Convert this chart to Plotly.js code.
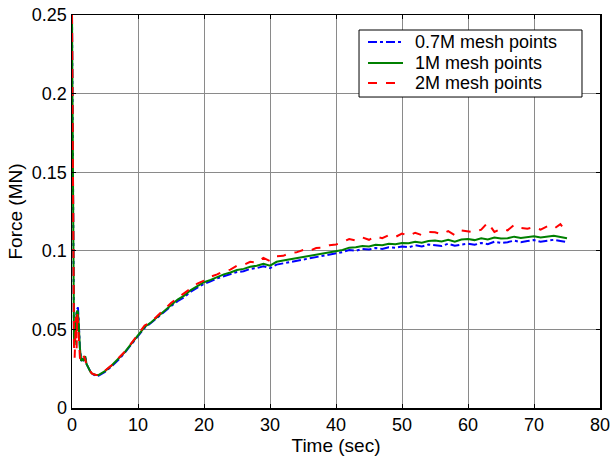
<!DOCTYPE html>
<html>
<head>
<meta charset="utf-8">
<script src="https://cdn.plot.ly/plotly-3.0.1.min.js"></script>
<style>html,body{margin:0;padding:0;background:#fff;}#chart{width:613px;height:459px;}</style>
</head>
<body>
<div id="chart"></div>
<script>
// Time axis (sec)
const timeEarly = [0, 0.05, 0.1, 0.15, 0.2, 0.3, 0.4, 0.5, 0.6, 0.7, 0.8, 0.9, 1.0, 1.1, 1.2, 1.4, 1.6, 1.8, 2.0, 2.2, 2.5, 2.8, 3.0, 3.3, 3.6];
const timeMain = [4,5,6,7,8,9,10,11,12,13,14,15,16,17,18,19,20,21,22,23,24,25,26,27,28,29,30,31,32,33,34,35,36,37,38,39,40,41,42,43,44,45,46,47,48,49,50,51,52,53,54,55,56,57,58,59,60,61,62,63,64,65,66,67,68,69,70,71,72,73,74,75];

// 0.7M mesh points (MN)
const blueEarly = [0.25, 0.205, 0.155, 0.105, 0.068, 0.046, 0.042, 0.052, 0.058, 0.061, 0.063, 0.064, 0.057, 0.046, 0.038, 0.030, 0.031, 0.030, 0.033, 0.028, 0.025, 0.023, 0.022, 0.0215, 0.0205];
const blueMain = [0.0205,0.0230,0.0265,0.0305,0.0352,0.0405,0.0460,0.0510,0.0542,0.0575,0.0612,0.0648,0.0680,0.0705,0.0740,0.0765,0.0790,0.0805,0.0825,0.0838,0.0850,0.0865,0.0870,0.0885,0.0890,0.0902,0.0890,0.0912,0.0920,0.0928,0.0938,0.0945,0.0955,0.0960,0.0968,0.0978,0.0985,0.0992,0.1005,0.1000,0.1012,0.1008,0.1018,0.1012,0.1022,0.1020,0.1028,0.1022,0.1035,0.1028,0.1040,0.1035,0.1030,0.1045,0.1032,0.1040,0.1045,0.1038,0.1050,0.1042,0.1058,0.1050,0.1055,0.1065,0.1055,0.1062,0.1068,0.1058,0.1065,0.1070,0.1062,0.1055];

// 1M mesh points (MN)
const greenEarly = [0.25, 0.21, 0.16, 0.11, 0.07, 0.045, 0.040, 0.050, 0.056, 0.060, 0.062, 0.061, 0.055, 0.045, 0.038, 0.030, 0.031, 0.030, 0.033, 0.028, 0.025, 0.023, 0.022, 0.0215, 0.021];
const greenMain = [0.0210,0.0235,0.0270,0.0310,0.0355,0.0410,0.0465,0.0515,0.0545,0.0580,0.0620,0.0655,0.0690,0.0715,0.0750,0.0775,0.0800,0.0815,0.0835,0.0850,0.0862,0.0878,0.0885,0.0898,0.0905,0.0918,0.0905,0.0930,0.0938,0.0945,0.0955,0.0962,0.0968,0.0975,0.0980,0.0990,0.0995,0.1005,0.1020,0.1022,0.1030,0.1028,0.1038,0.1035,0.1045,0.1042,0.1050,0.1048,0.1058,0.1052,0.1062,0.1065,0.1060,0.1070,0.1058,0.1072,0.1075,0.1068,0.1080,0.1072,0.1085,0.1078,0.1080,0.1090,0.1082,0.1088,0.1092,0.1085,0.1090,0.1095,0.1088,0.1080];

// 2M mesh points (MN)
const redEarly = [0.25, 0.22, 0.17, 0.12, 0.075, 0.040, 0.032, 0.045, 0.058, 0.038, 0.060, 0.055, 0.050, 0.040, 0.032, 0.029, 0.030, 0.033, 0.031, 0.027, 0.025, 0.023, 0.022, 0.0215, 0.021];
const redMain = [0.0210,0.0238,0.0272,0.0315,0.0358,0.0412,0.0468,0.0525,0.0548,0.0590,0.0628,0.0668,0.0700,0.0728,0.0760,0.0792,0.0810,0.0835,0.0850,0.0872,0.0880,0.0905,0.0910,0.0930,0.0925,0.0955,0.0935,0.0965,0.0968,0.0985,0.0990,0.1005,0.1000,0.1018,0.1020,0.1035,0.1040,0.1055,0.1075,0.1065,0.1085,0.1070,0.1092,0.1080,0.1100,0.1088,0.1110,0.1095,0.1115,0.1100,0.1120,0.1118,0.1105,0.1125,0.1100,0.1130,0.1125,0.1118,0.1135,0.1180,0.1120,0.1140,0.1130,0.1165,0.1145,0.1140,0.1150,0.1135,0.1155,0.1140,0.1170,0.1115];

const seriesNames = ['0.7M mesh points', '1M mesh points', '2M mesh points'];
const seriesColors = ['#0000ff', '#008000', '#ff0000'];
const seriesDash = ['dashdot', 'solid', 'dash'];
const xTicks = [0,10,20,30,40,50,60,70,80];
const yTicks = [0,0.05,0.1,0.15,0.2,0.25];

const FONT = 'Liberation Sans, Arial, sans-serif';
const time = timeEarly.concat(timeMain);
const yData = [blueEarly.concat(blueMain), greenEarly.concat(greenMain), redEarly.concat(redMain)];
const traces = yData.map((y, i) => ({
  x: time, y: y, name: seriesNames[i], mode: 'lines', showlegend: false,
  line: {color: seriesColors[i], width: 2, dash: seriesDash[i]}
}));

// Legend box (paper coordinates), styled like the MATLAB legend
const legBox = {x0: 0.5436, x1: 0.9659, y0: 0.7913, y1: 0.9618};
const legRows = [0.9313, 0.8779, 0.8270];
const legLineX = [0.5606, 0.6269];
const legTextX = 0.6458;

const shapes = [{type: 'rect', xref: 'paper', yref: 'paper', x0: legBox.x0, x1: legBox.x1, y0: legBox.y0, y1: legBox.y1,
  line: {color: '#000', width: 1}, fillcolor: '#fff', layer: 'above'}];
const annotations = [];
legRows.forEach((ry, i) => {
  shapes.push({type: 'line', xref: 'paper', yref: 'paper', x0: legLineX[0], x1: legLineX[1], y0: ry, y1: ry,
    line: {color: seriesColors[i], width: 2, dash: seriesDash[i]}, layer: 'above'});
  annotations.push({xref: 'paper', yref: 'paper', x: legTextX, y: ry, xanchor: 'left', yanchor: 'middle',
    text: seriesNames[i], showarrow: false, font: {family: FONT, size: 18, color: '#000'}});
});

const axisCommon = {
  showline: true, mirror: 'ticks', linecolor: '#000', linewidth: 1.5,
  showgrid: true, gridcolor: '#8a8a8a', gridwidth: 1,
  ticks: 'inside', ticklen: 4, tickcolor: '#000',
  zeroline: false,
  tickfont: {family: FONT, size: 18, color: '#000'}
};

const layout = {
  width: 613, height: 459,
  margin: {l: 72, r: 13, t: 15, b: 51},
  paper_bgcolor: '#fff', plot_bgcolor: '#fff',
  showlegend: false,
  shapes: shapes,
  annotations: annotations,
  xaxis: Object.assign({}, axisCommon, {
    range: [0, 80], tickvals: xTicks,
    title: {text: 'Time (sec)', font: {family: FONT, size: 19, color: '#000'}, standoff: 0}
  }),
  yaxis: Object.assign({}, axisCommon, {
    range: [0, 0.25], tickvals: yTicks, ticktext: yTicks.map(String),
    title: {text: 'Force (MN)', font: {family: FONT, size: 19, color: '#000'}, standoff: 4}
  })
};

Plotly.newPlot('chart', traces, layout, {displayModeBar: false, staticPlot: true});
</script>
</body>
</html>
